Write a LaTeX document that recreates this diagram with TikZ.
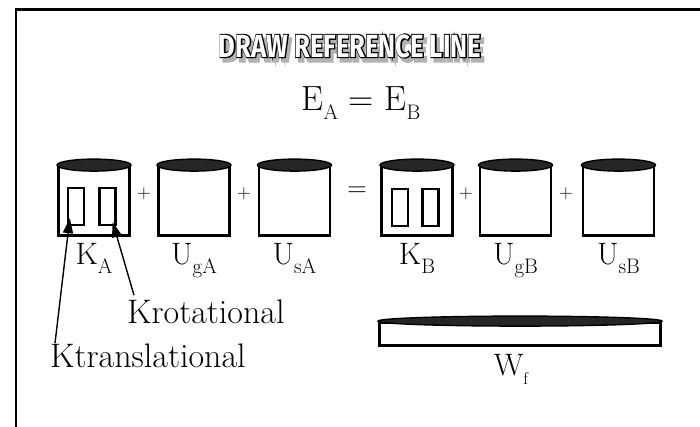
\documentclass[tikz,border=0pt]{standalone}
\usepackage{fontspec}
\usetikzlibrary{arrows.meta, positioning}
\newfontfamily\titlefont{Fira Sans}
\newfontfamily\titleedge{Fira Sans}[BoldFeatures={FakeBold=7}]
\newfontfamily\titleblur{Fira Sans}[BoldFeatures={FakeBold=9}]
\newcommand\lowsub[2][21]{\raisebox{-9pt}{\fontsize{#1}{#1}\selectfont #2}}

\begin{document}
\begin{tikzpicture}[
    x=1pt, y=-1pt,
    cyl/.style={draw, line width=2.8pt, minimum width=71pt, minimum height=69pt,
                inner sep=0pt},
    slot/.style={draw, line width=2.4pt, minimum width=16pt, minimum height=37pt,
                 inner sep=0pt},
    lid/.style={draw=black, line width=1.4pt, fill=black!85},
    lbl/.style={font=\fontsize{31}{31}\selectfont, inner sep=0pt},
    op/.style={font=\fontsize{19}{19}\selectfont, inner sep=0pt},
    note/.style={font=\fontsize{34}{34}\selectfont, anchor=base west, inner sep=0pt},
    arr/.style={-{Triangle[length=15pt, width=10pt]}, line width=1.4pt},
    headline/.style={inner sep=0pt, font=\bfseries\fontsize{32}{32}\selectfont},
  ]
    \useasboundingbox (0,0) rectangle (700,427);
    \draw[line width=2.5pt] (16,427) -- (16,9.5) -- (700,9.5);

    % title
    \node[headline, text=black!30] (titleshadow) at (353,50)
      {\titleblur\scalebox{0.8}[1]{DRAW REFERENCE LINE}};
    \node[headline, text=black] (titleline) at (350,46)
      {\titleedge\scalebox{0.8}[1]{DRAW REFERENCE LINE}};
    \node[headline, text=white] (title) at (350,46)
      {\titlefont\scalebox{0.8}[1]{DRAW REFERENCE LINE}};

    \node[font=\fontsize{35}{35}\selectfont, anchor=base, inner sep=0pt] (energy)
      at (361,111) {E\lowsub{A} = E\lowsub{B}};

    % state A
    \node[cyl] (ka)  at (94,201)  {};
    \node[cyl] (uga) at (194,201) {};
    \node[cyl] (usa) at (294.5,201) {};
    \node[slot] (kat) at (76,206.5)  {};
    \node[slot] (kar) at (107.5,206.5) {};

    % state B
    \node[cyl] (kb)  at (417,201)   {};
    \node[cyl] (ugb) at (515.5,201) {};
    \node[cyl] (usb) at (618.5,201) {};
    \node[slot] (kbt) at (400,207.5)   {};
    \node[slot] (kbr) at (430.5,207.5) {};

    \draw[lid] (ka.north)  ellipse [x radius=37pt, y radius=6pt];
    \draw[lid] (uga.north) ellipse [x radius=37pt, y radius=6pt];
    \draw[lid] (usa.north) ellipse [x radius=37pt, y radius=6pt];
    \draw[lid] (kb.north)  ellipse [x radius=37pt, y radius=6pt];
    \draw[lid] (ugb.north) ellipse [x radius=37pt, y radius=6pt];
    \draw[lid] (usb.north) ellipse [x radius=37pt, y radius=6pt];

    \node[op] (plus1) at (144,194) {+};
    \node[op] (plus2) at (244,194) {+};
    \node[op, font=\fontsize{27}{27}\selectfont] (equal) at (357,192) {=};
    \node[op] (plus3) at (466,194) {+};
    \node[op] (plus4) at (566,194) {+};

    \node[lbl, below=6pt of ka]  (kal)  {K\lowsub{A}};
    \node[lbl, below=6pt of uga] (ugal) {U\lowsub{gA}};
    \node[lbl, below=6pt of usa] (usal) {U\lowsub{sA}};
    \node[lbl, below=6pt of kb]  (kbl)  {K\lowsub{B}};
    \node[lbl, below=6pt of ugb] (ugbl) {U\lowsub{gB}};
    \node[lbl, below=6pt of usb] (usbl) {U\lowsub{sB}};

    % friction
    \node[cyl, minimum width=281pt, minimum height=23pt] (wf) at (520,334) {};
    \draw[lid] (wf.north) ellipse [x radius=142pt, y radius=5pt];
    \node[lbl, below=7pt of wf, xshift=-9pt] (wfl) {W\lowsub[17]{f}};

    % kinetic parts
    \node[note] (krot)   at (127,323) {Krotational};
    \node[note] (ktrans) at (50,367)  {Ktranslational};
    \draw[arr] ([xshift=5pt]ktrans.north west) -- ([xshift=3pt, yshift=8pt]kat.south west);
    \draw[arr] ([xshift=7pt, yshift=4pt]krot.north west) -- ([xshift=-4pt, yshift=4pt]kar.south east);
  \end{tikzpicture}
\end{document}
